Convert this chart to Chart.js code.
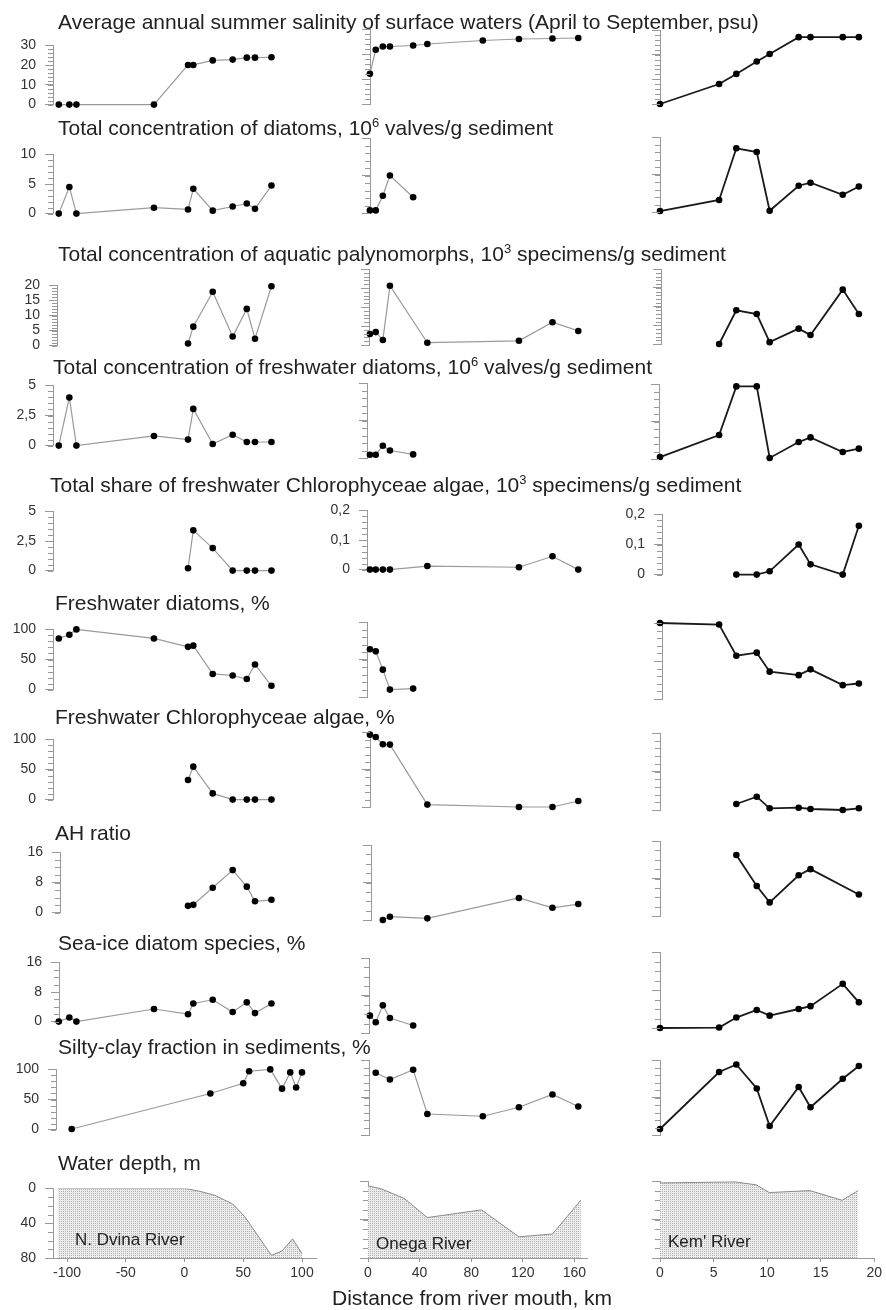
<!DOCTYPE html>
<html>
<head>
<meta charset="utf-8">
<script src="https://cdn.jsdelivr.net/npm/chart.js@4.4.1/dist/chart.umd.min.js"></script>
<style>
  body { margin: 0; background: #fff; width: 886px; height: 1310px; position: relative; overflow: hidden;
         font-family: "Liberation Sans", Arial, sans-serif; }
  .t { position: absolute; z-index: 2; font-size: 21px; color: #222; white-space: nowrap; line-height: 24px; }
  .t sup { font-size: 13px; vertical-align: 8px; line-height: 0; }
  .river { position: absolute; z-index: 2; font-size: 17px; color: #222; white-space: nowrap; line-height: 20px; }
  canvas { position: absolute; z-index: 1; }
</style>
</head>
<body>
<div class="t" style="left:58px;top:10px">Average annual summer salinity of surface waters (April to September,&thinsp;psu)</div>
<div class="t" style="left:58px;top:116px">Total concentration of diatoms, 10<sup>6</sup> valves/g sediment</div>
<div class="t" style="left:58px;top:242px">Total concentration of aquatic palynomorphs, 10<sup>3</sup> specimens/g sediment</div>
<div class="t" style="left:53px;top:355px">Total concentration of freshwater diatoms, 10<sup>6</sup> valves/g sediment</div>
<div class="t" style="left:50px;top:473px">Total share of freshwater Chlorophyceae algae, 10<sup>3</sup> specimens/g sediment</div>
<div class="t" style="left:55px;top:591px">Freshwater diatoms, %</div>
<div class="t" style="left:55px;top:705px">Freshwater Chlorophyceae algae, %</div>
<div class="t" style="left:55px;top:821px">AH ratio</div>
<div class="t" style="left:58px;top:931px">Sea-ice diatom species, %</div>
<div class="t" style="left:58px;top:1035px">Silty-clay fraction in sediments, %</div>
<div class="t" style="left:58px;top:1151px">Water depth, m</div>
<div class="t" style="left:332px;top:1286px">Distance from river mouth, km</div>
<div class="river" style="left:75px;top:1230px">N. Dvina River</div>
<div class="river" style="left:376px;top:1234px">Onega River</div>
<div class="river" style="left:668px;top:1232px">Kem' River</div>

<script>
// stations, km from river mouth
const dvinaKm = [-107, -98, -92, -26, 3, 7.5, 24, 41, 53, 60, 74];
const onegaKm = [1.5, 6, 11.5, 17, 35, 46, 89, 117, 143, 163];
const kemKm = [0, 5.5, 7.1, 9, 10.2, 12.9, 14, 17, 18.5];

// x tick labels
const dvinaTicks = [-100, -50, 0, 50, 100];
const onegaTicks = [0, 40, 80, 120, 160];
const kemTicks = [0, 5, 10, 15, 20];

// y tick labels
const salinityTicks = [0, 10, 20, 30];
const diatomTicks = [0, 5, 10];
const palynoTicks = [0, 5, 10, 15, 20];
const fwDiatomTicks = [0, 2.5, 5];
const chloroTicks = [0, 2.5, 5];
const chloroSmallTicks = [0, 0.1, 0.2];
const percentTicks = [0, 50, 100];
const ratioTicks = [0, 8, 16];
const depthTicks = [0, 40, 80];

// salinity, psu
const salinityDvina = [0, 0, 0, 0, 20.1, 20.1, 22.4, 22.8, 23.8, 23.8, 24.0];
const salinityOnega = [12.1, 21.7, 23.0, 23.0, 23.4, 24.0, 25.4, 26.0, 26.2, 26.4];
const salinityKem = [0, 8.1, 12.2, 17.2, 20.3, 27.1, 27.1, 27.1, 27.1];

// total diatoms
const diatomsDvina = [0, 4.5, 0, 1.0, 0.7, 4.2, 0.5, 1.2, 1.7, 0.8, 4.75];
const diatomsOnega = [0.35, 0.35, 2.3, 5.0, 2.1, null, null, null, null, null];
const diatomsKem = [0.13, 1.6, 8.5, 8.0, 0.17, 3.5, 3.9, 2.3, 3.4];

// aquatic palynomorphs
const palynoDvina = [null, null, null, null, 0.7, 6.3, 17.9, 3.0, 12.2, 2.3, 19.7];
const palynoOnega = [2.9, 3.4, 1.3, 15.6, null, 0.6, null, 1.1, 6.0, 3.7];
const palynoKem = [null, 0, 9.0, 8.0, 0.5, 4.1, 2.4, 14.5, 8.0];

// freshwater diatoms, concentration
const fwConcDvina = [0, 4.0, 0, 0.8, 0.5, 3.05, 0.13, 0.9, 0.3, 0.3, 0.3];
const fwConcOnega = [0.22, 0.22, 0.82, 0.5, 0.24, null, null, null, null, null];
const fwConcKem = [0.13, 1.6, 4.84, 4.84, 0.07, 1.13, 1.44, 0.47, 0.69];

// freshwater Chlorophyceae, concentration
const chloroDvina = [null, null, null, null, 0.2, 3.4, 1.9, 0, 0, 0, 0];
const chloroOnega = [0, 0, 0, 0, null, 0.012, null, 0.008, 0.045, 0];
const chloroKem = [null, null, 0, 0, 0.011, 0.1, 0.034, 0, 0.162];

// freshwater diatoms, %
const fwPctDvina = [85, 91, 100, 85, 71, 73, 26, 23.4, 17.5, 41.7, 6.3];
const fwPctOnega = [63.6, 60.9, 36.5, 9.9, 11.2, null, null, null, null, null];
const fwPctKem = [100, 98, 57, 61, 36, 31.4, 39, 18.2, 20.4];

// freshwater Chlorophyceae, %
const chloroPctDvina = [null, null, null, null, 32.5, 54.7, 10.3, 0, 0, 0, 0];
const chloroPctOnega = [96.5, 93.3, 83.6, 83.2, null, 3.2, null, 0, 0, 8];
const chloroPctKem = [null, null, 7.8, 17.3, 2.2, 3, 1.3, 0, 2.2];

// AH ratio
const ahDvina = [null, null, null, null, 1.8, 2.1, 6.6, 11.3, 6.9, 3.0, 3.4];
const ahOnega = [null, null, 0, 0.7, null, 0.35, null, 4.7, 2.6, 3.4];
const ahKem = [null, null, 13.0, 6.4, 2.9, 8.7, 10.0, null, 4.6];

// sea-ice diatoms, %
const seaIceDvina = [0, 1.1, 0, 3.4, 2.0, 4.9, 5.9, 2.6, 5.2, 2.3, 4.9];
const seaIceOnega = [3.7, 2.3, 5.9, 3.2, 1.6, null, null, null, null, null];
const seaIceKem = [0, 0.1, 2.2, 3.8, 2.6, 4.0, 4.6, 9.3, 5.4];

// silty-clay fraction, %
const siltDvinaKm = [-96, 22, 50, 55, 73, 83, 90, 95, 100];
const siltDvina = [1, 60, 77, 97, 100, 68, 95, 70, 95];
const siltOnega = [null, 83, null, 74, 87, 28, 25, 37, 54, 38];
const siltKem = [8, 84, 94, 62, 12, 64, 37, 75, 92];

// water depth, m
const depthDvinaKm = [-108, 0, 12, 26, 41, 51, 74, 83, 92, 100];
const depthDvina = [0, 0, 3, 8, 18, 32, 77, 72, 58, 75];
const depthOnegaKm = [0, 10, 28, 46, 88, 117, 143, 165];
const depthOnega = [5, 8, 18, 38, 30, 58, 55, 20];
const depthKemKm = [0, 7, 9, 10.2, 14, 17, 18.5];
const depthKem = [2, 1, 4, 12, 10, 20, 10];

// ---- layout (page pixels) ----
const LW = 50, PT = 10, PB = 10, PR = 10, XAH = 26;
// px = origin + scale * km for each column
const colMap = [[184.5, 1.175], [368, 1.29], [660, 10.75]];
const colRight = [316, 587, 875];
const colTicks = [dvinaTicks, onegaTicks, kemTicks];
// left axis position of every panel, rows x columns
const axisX = [
  [53, 370, 660], [53, 370, 660], [57, 369, 661], [53, 367, 659], [53, 367, 662], [53, 367, 662],
  [53, 370, 660], [60, 371, 660], [59, 369, 660], [56, 369, 660], [53, 368, 660]
];
const rowY = [
  [[38, 112], [29, 104], [30, 104]],
  [[147, 221], [138, 213], [137, 212]],
  [[278, 353], [269, 345], [269, 344]],
  [[378, 453], [383, 458], [384, 459]],
  [[504, 578], [503, 577], [507, 582]],
  [[622, 697], [622, 697], [623, 699]],
  [[732, 807], [732, 807], [733, 810]],
  [[845, 920], [845, 920], [841, 916]],
  [[955, 1029], [958, 1033], [952, 1028]],
  [[1062, 1137], [1060, 1135], [1060, 1135]],
  [[1181, 1258], [1181, 1258], [1181, 1258]]
];
const lineStyle = [
  { color: '#9a9a9a', width: 1.2 },
  { color: '#9a9a9a', width: 1.2 },
  { color: '#1a1a1a', width: 1.8 }
];
const axisColor = '#999';

const minorTicks = {
  id: 'minorTicks',
  afterDraw(chart, args, opts) {
    const s = chart.scales.y;
    if (!opts.step) return;
    const ctx = chart.ctx;
    ctx.save();
    ctx.strokeStyle = axisColor;
    ctx.lineWidth = 1;
    const n = Math.round((s.max - s.min) / opts.step);
    for (let i = 0; i <= n; i++) {
      const py = Math.round(s.getPixelForValue(s.min + i * opts.step)) + 0.5;
      ctx.beginPath();
      ctx.moveTo(s.right, py);
      ctx.lineTo(s.right - 5, py);
      ctx.stroke();
    }
    ctx.restore();
  }
};

const fmt = v => String(v).replace('.', ',');

function stipple(ctx) {
  const c = document.createElement('canvas');
  c.width = 2; c.height = 2;
  const g = c.getContext('2d');
  g.fillStyle = '#ededed';
  g.fillRect(0, 0, 2, 2);
  g.fillStyle = '#b0b0b0';
  g.fillRect(0, 0, 1, 1);
  return ctx.createPattern(c, 'repeat');
}

function panel(col, row, xs, ys, yTicks, minor, labels, opts = {}) {
  const [org, k] = colMap[col];
  const x0 = axisX[row][col], x1 = colRight[col];
  const [yT, yB] = rowY[row][col];
  const bottomRow = !!opts.area;
  const cv = document.createElement('canvas');
  const w = x1 - x0 + LW + PR;
  const h = yB - yT + PT + (bottomRow ? XAH : PB);
  cv.width = w; cv.height = h;
  cv.style.width = w + 'px'; cv.style.height = h + 'px';
  cv.style.left = (x0 - LW) + 'px';
  cv.style.top = (yT - PT) + 'px';
  document.body.appendChild(cv);
  const ctx = cv.getContext('2d');

  const pts = xs.map((x, i) => ({ x: x, y: ys[i] })).filter(p => p.y !== null);
  const ls = lineStyle[col];
  const ds = bottomRow ? {
    data: pts, borderColor: '#8a8a8a', borderWidth: 1, pointRadius: 0,
    fill: 'start', backgroundColor: stipple(ctx), tension: 0
  } : {
    data: pts, borderColor: ls.color, borderWidth: ls.width, pointRadius: 3.3,
    pointBackgroundColor: '#000', pointBorderWidth: 0, tension: 0, clip: false, fill: false
  };

  new Chart(cv, {
    type: 'line',
    data: { datasets: [ds] },
    options: {
      responsive: false,
      animation: false,
      events: [],
      layout: { padding: { top: PT, bottom: bottomRow ? 0 : PB, left: 0, right: PR } },
      plugins: { legend: { display: false }, tooltip: { enabled: false }, minorTicks: { step: minor } },
      scales: {
        x: {
          type: 'linear', display: bottomRow,
          min: (x0 - org) / k, max: (x1 - org) / k,
          afterBuildTicks: s => { s.ticks = colTicks[col].map(v => ({ value: v })); },
          afterFit: s => { if (bottomRow) s.height = XAH; },
          grid: { display: true, drawOnChartArea: false, drawTicks: true, tickLength: 4, color: axisColor },
          border: { display: true, color: axisColor },
          ticks: { font: { family: 'Liberation Sans', size: 14 }, color: '#333', padding: 3, maxRotation: 0, autoSkip: false }
        },
        y: {
          type: 'linear',
          reverse: !!opts.reverse,
          min: yTicks[0], max: yTicks[yTicks.length - 1],
          afterBuildTicks: s => { s.ticks = yTicks.map(v => ({ value: v })); },
          afterFit: s => { s.width = LW; },
          grid: { display: true, drawOnChartArea: false, drawTicks: true, tickLength: 8, color: axisColor },
          border: { display: true, color: axisColor },
          ticks: {
            display: labels, autoSkip: false, font: { family: 'Liberation Sans', size: 14 }, color: '#333', padding: 9,
            callback: v => fmt(v)
          }
        }
      }
    },
    plugins: [minorTicks]
  });
}

const stations = [dvinaKm, onegaKm, kemKm];
const rows = [
  { data: [salinityDvina, salinityOnega, salinityKem], ticks: [salinityTicks], minor: [2] },
  { data: [diatomsDvina, diatomsOnega, diatomsKem], ticks: [diatomTicks], minor: [1] },
  { data: [palynoDvina, palynoOnega, palynoKem], ticks: [palynoTicks], minor: [1] },
  { data: [fwConcDvina, fwConcOnega, fwConcKem], ticks: [fwDiatomTicks], minor: [0.5] },
  { data: [chloroDvina, chloroOnega, chloroKem], ticks: [chloroTicks, chloroSmallTicks, chloroSmallTicks],
    minor: [0.5, 0.02, 0.02], labels: [true, true, true] },
  { data: [fwPctDvina, fwPctOnega, fwPctKem], ticks: [percentTicks], minor: [10] },
  { data: [chloroPctDvina, chloroPctOnega, chloroPctKem], ticks: [percentTicks], minor: [10] },
  { data: [ahDvina, ahOnega, ahKem], ticks: [ratioTicks], minor: [2] },
  { data: [seaIceDvina, seaIceOnega, seaIceKem], ticks: [ratioTicks], minor: [2] }
];

rows.forEach((r, ri) => {
  for (let c = 0; c < 3; c++) {
    const tk = r.ticks[c] || r.ticks[0];
    const mn = r.minor[c] || r.minor[0];
    const lab = r.labels ? r.labels[c] : c === 0;
    panel(c, ri, stations[c], r.data[c], tk, mn, lab);
  }
});

panel(0, 9, siltDvinaKm, siltDvina, percentTicks, 10, true);
panel(1, 9, onegaKm, siltOnega, percentTicks, 10, false);
panel(2, 9, kemKm, siltKem, percentTicks, 10, false);

panel(0, 10, depthDvinaKm, depthDvina, depthTicks, 10, true, { area: true, reverse: true });
panel(1, 10, depthOnegaKm, depthOnega, depthTicks, 10, false, { area: true, reverse: true });
panel(2, 10, depthKemKm, depthKem, depthTicks, 10, false, { area: true, reverse: true });
</script>
</body>
</html>
